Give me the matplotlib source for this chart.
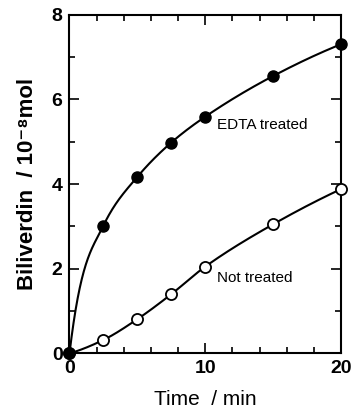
import numpy as np
import matplotlib
matplotlib.use("Agg")
import matplotlib.pyplot as plt
from matplotlib.ticker import MultipleLocator

time_min = [0, 2.5, 5, 7.5, 10, 15, 20]
edta_treated = [0, 3.02, 4.17, 4.98, 5.59, 6.55, 7.30]
not_treated = [0, 0.32, 0.81, 1.40, 2.05, 3.05, 3.88]


def pchip_curve(x, y, n=400, start_slope=None):
    x = np.asarray(x, float)
    y = np.asarray(y, float)
    h = np.diff(x)
    d = np.diff(y) / h
    m = np.zeros_like(x)
    for k in range(1, len(x) - 1):
        if d[k - 1] * d[k] <= 0:
            m[k] = 0
        else:
            w1 = 2 * h[k] + h[k - 1]
            w2 = h[k] + 2 * h[k - 1]
            m[k] = (w1 + w2) / (w1 / d[k - 1] + w2 / d[k])
    m0 = ((2 * h[0] + h[1]) * d[0] - h[0] * d[1]) / (h[0] + h[1])
    m[0] = m0 if start_slope is None else start_slope
    mn = ((2 * h[-1] + h[-2]) * d[-1] - h[-1] * d[-2]) / (h[-1] + h[-2])
    m[-1] = mn
    xs = np.linspace(x[0], x[-1], n)
    idx = np.clip(np.searchsorted(x, xs) - 1, 0, len(x) - 2)
    s = (xs - x[idx]) / h[idx]
    h00 = 2 * s**3 - 3 * s**2 + 1
    h10 = s**3 - 2 * s**2 + s
    h01 = -2 * s**3 + 3 * s**2
    h11 = s**3 - s**2
    ys = h00 * y[idx] + h10 * h[idx] * m[idx] + h01 * y[idx + 1] + h11 * h[idx] * m[idx + 1]
    return xs, ys


plt.rcParams['font.family'] = ['Liberation Sans', 'DejaVu Sans']

fig = plt.figure(figsize=(3.51, 4.11), dpi=100)
ax = fig.add_axes([0.198, 0.140, 0.7735, 0.8245])

xs, ys = pchip_curve(time_min, not_treated)
ax.plot(xs, ys, color='black', lw=1.5, clip_on=False, zorder=2)
ax.plot(time_min, not_treated, 'o', ms=8, mfc='white', mec='black', mew=1.3,
        clip_on=False, zorder=3)

xs, ys = pchip_curve(time_min, edta_treated, start_slope=2.7)
ax.plot(xs, ys, color='black', lw=1.5, clip_on=False, zorder=2)
ax.plot(time_min, edta_treated, 'o', ms=8, mfc='black', mec='black',
        clip_on=False, zorder=4)

ax.set_xlim(0, 20)
ax.set_ylim(0, 8)
ax.xaxis.set_major_locator(MultipleLocator(10))
ax.xaxis.set_minor_locator(MultipleLocator(2))
ax.yaxis.set_major_locator(MultipleLocator(2))
ax.yaxis.set_minor_locator(MultipleLocator(1))
ax.tick_params(which='both', direction='in', top=True, right=True, width=1.2)
ax.tick_params(which='major', length=7, labelsize=14, pad=5)
ax.tick_params(which='minor', length=4)
for lab in ax.get_xticklabels() + ax.get_yticklabels():
    lab.set_fontweight('bold')
for sp in ax.spines.values():
    sp.set_linewidth(1.5)

ax.set_xlabel('Time  / min', fontsize=15, labelpad=9)
ax.set_ylabel('Biliverdin  / 10\u207b\u2078mol', fontsize=16, fontweight='bold', labelpad=10)

ax.text(10.9, 5.4, 'EDTA treated', fontsize=11, ha='left', va='center')
ax.text(10.9, 1.78, 'Not treated', fontsize=11, ha='left', va='center')

fig.savefig('out.png', dpi=100)
